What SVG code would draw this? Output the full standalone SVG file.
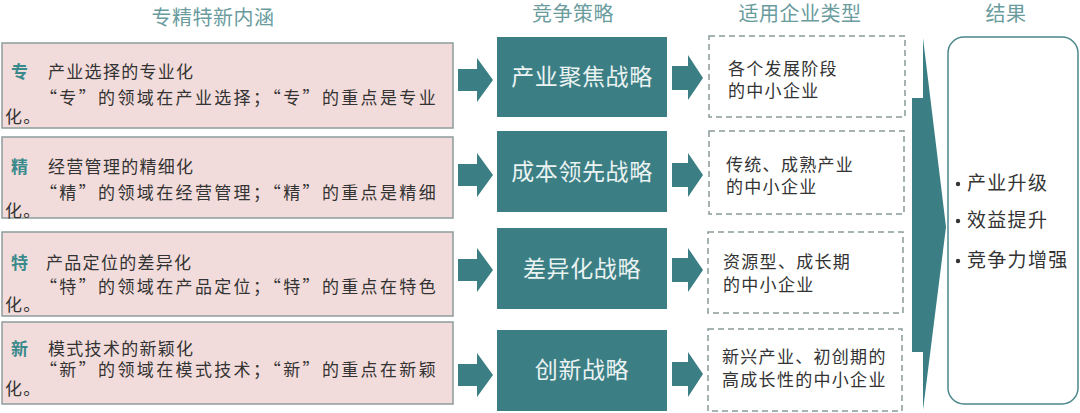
<svg xmlns="http://www.w3.org/2000/svg" width="1080" height="413" viewBox="0 0 1080 413">
<style>
.hdr{font-family:"Noto Sans CJK SC","Noto Sans",sans-serif;font-size:20px;fill:#6a9c9e;text-anchor:middle;letter-spacing:0.5px}
.pink{fill:#f2dcdb;stroke:#8e9c9d;stroke-width:1.5}
.body{font-family:"Noto Sans CJK SC","Noto Sans",sans-serif;font-size:17px;fill:#333;letter-spacing:1.3px}
.key{font-family:"Noto Sans CJK SC","Noto Sans",sans-serif;font-size:17px;font-weight:bold;fill:#3a8a8c}
.teal{fill:#3b7f85}
.strat{font-family:"Noto Sans CJK SC","Noto Sans",sans-serif;font-size:23px;fill:#eaf2f2;text-anchor:middle;letter-spacing:0.6px}
.dash{fill:#fff;stroke:#8a9a9b;stroke-width:1.5;stroke-dasharray:6 4}
.res{font-family:"Noto Sans CJK SC","Noto Sans",sans-serif;font-size:19px;fill:#333;letter-spacing:1.3px}
</style>
<rect width="1080" height="413" fill="#fff"/>
<g id="headers">
<text class="hdr" x="213" y="25">专精特新内涵</text>
<text class="hdr" x="573" y="21">竞争策略</text>
<text class="hdr" x="800" y="21">适用企业类型</text>
<text class="hdr" x="1006" y="21">结果</text>
</g>
<g id="meaning-zhuan">
<rect class="pink" x="2" y="43" width="451" height="85"/>
<text class="key" x="11" y="78">专</text>
<text class="body" x="48" y="78">产业选择的专业化</text>
<text class="body" x="40" y="104" textLength="397" lengthAdjust="spacing">“专”的领域在产业选择；“专”的重点是专业</text>
<text class="body" x="5" y="123">化。</text>
</g>
<g id="meaning-jing">
<rect class="pink" x="2" y="137" width="451" height="81"/>
<text class="key" x="11" y="173">精</text>
<text class="body" x="48" y="173">经营管理的精细化</text>
<text class="body" x="40" y="199" textLength="397" lengthAdjust="spacing">“精”的领域在经营管理；“精”的重点是精细</text>
<text class="body" x="5" y="217">化。</text>
</g>
<g id="meaning-te">
<rect class="pink" x="2" y="232" width="451" height="84"/>
<text class="key" x="11" y="269">特</text>
<text class="body" x="46" y="269">产品定位的差异化</text>
<text class="body" x="40" y="293" textLength="397" lengthAdjust="spacing">“特”的领域在产品定位；“特”的重点在特色</text>
<text class="body" x="5" y="311">化。</text>
</g>
<g id="meaning-xin">
<rect class="pink" x="2" y="322" width="451" height="82"/>
<text class="key" x="11" y="355">新</text>
<text class="body" x="48" y="355">模式技术的新颖化</text>
<text class="body" x="40" y="376" textLength="397" lengthAdjust="spacing">“新”的领域在模式技术；“新”的重点在新颖</text>
<text class="body" x="5" y="395">化。</text>
</g>
<g id="strategy-1">
<rect class="teal" x="497" y="37" width="170" height="80"/>
<text class="strat" x="582" y="85">产业聚焦战略</text>
</g>
<g id="strategy-2">
<rect class="teal" x="497" y="131" width="170" height="81"/>
<text class="strat" x="582" y="180">成本领先战略</text>
</g>
<g id="strategy-3">
<rect class="teal" x="497" y="228" width="170" height="81"/>
<text class="strat" x="582" y="277">差异化战略</text>
</g>
<g id="strategy-4">
<rect class="teal" x="497" y="330" width="170" height="81"/>
<text class="strat" x="582" y="378">创新战略</text>
</g>
<g id="type-1">
<rect class="dash" x="709" y="36" width="196" height="81"/>
<text class="body" x="728" y="75">各个发展阶段</text>
<text class="body" x="728" y="97">的中小企业</text>
</g>
<g id="type-2">
<rect class="dash" x="709" y="131" width="195" height="83"/>
<text class="body" x="726" y="171">传统、成熟产业</text>
<text class="body" x="726" y="193">的中小企业</text>
</g>
<g id="type-3">
<rect class="dash" x="708" y="232" width="195" height="81"/>
<text class="body" x="723" y="268">资源型、成长期</text>
<text class="body" x="723" y="291">的中小企业</text>
</g>
<g id="type-4">
<rect class="dash" x="708" y="329" width="194" height="82"/>
<text class="body" x="722" y="363">新兴产业、初创期的</text>
<text class="body" x="722" y="386">高成长性的中小企业</text>
</g>
<g id="result">
<rect x="948" y="37" width="130" height="367" rx="16" ry="16" fill="#fff" stroke="#4a878c" stroke-width="1.5"/>
<circle cx="958" cy="184" r="2.2" fill="#333"/>
<circle cx="958" cy="221" r="2.2" fill="#333"/>
<circle cx="958" cy="261" r="2.2" fill="#333"/>
<text class="res" x="967" y="190">产业升级</text>
<text class="res" x="967" y="227">效益提升</text>
<text class="res" x="967" y="267">竞争力增强</text>
</g>
<g id="connectors" class="teal">
<polygon points="458,69 477,69 477,58 493,80 477,102 477,91 458,91"/>
<polygon points="458,164 477,164 477,153 493,175 477,197 477,186 458,186"/>
<polygon points="458,259 477,259 477,248 493,270 477,292 477,281 458,281"/>
<polygon points="458,364 477,364 477,353 493,375 477,397 477,386 458,386"/>
<polygon points="672,66 688,66 688,55 703,78 688,100 688,90 672,90"/>
<polygon points="672,163 688,163 688,153 703,175 688,197 688,187 672,187"/>
<polygon points="672,258 688,258 688,248 703,270 688,292 688,282 672,282"/>
<polygon points="672,362 688,362 688,352 703,374 688,397 688,386 672,386"/>
<polygon points="923,38 946,227 923,410 923,352 912,352 912,98 923,98"/>
</g>
</svg>
